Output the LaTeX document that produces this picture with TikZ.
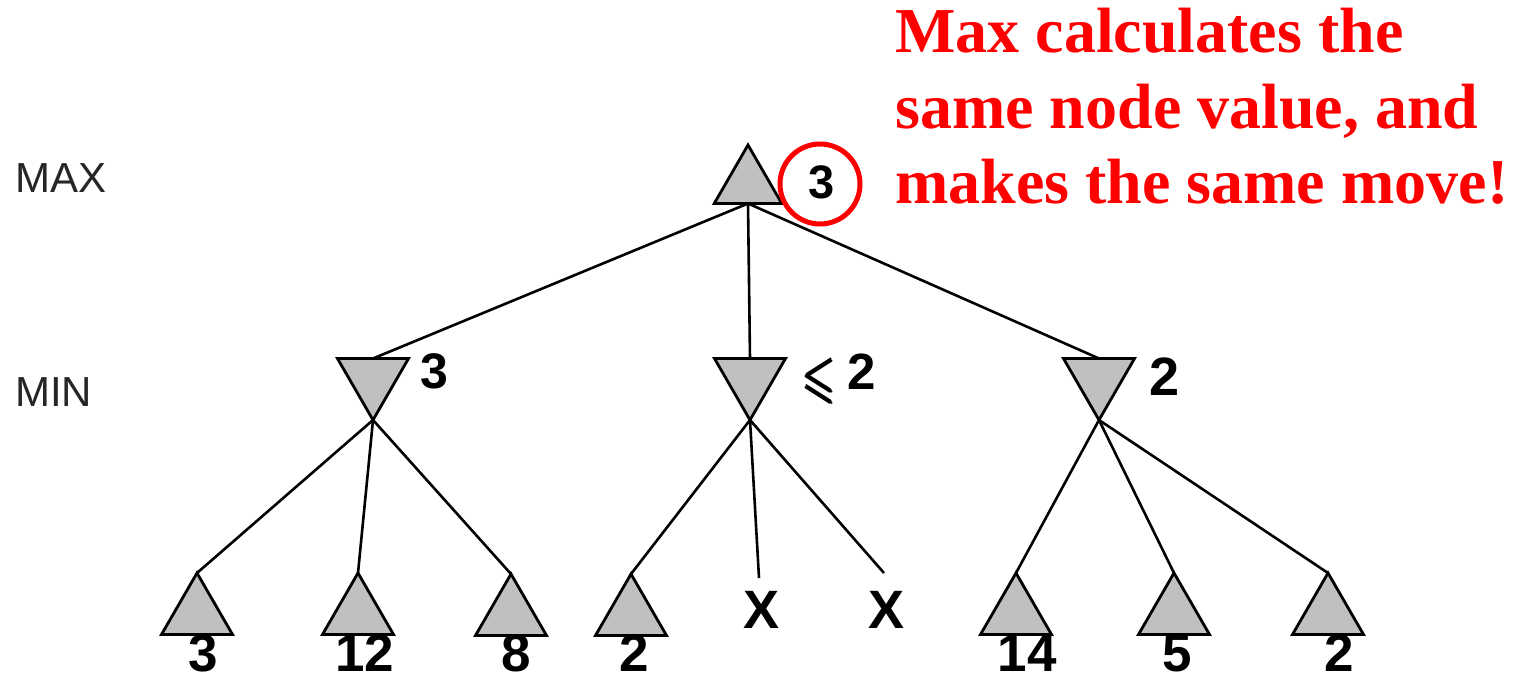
\documentclass[tikz,border=0pt]{standalone}
\usepackage{fontspec}
\usepackage{amssymb}
\usepackage{amsmath}
\usepackage{graphicx}
\newfontfamily\arialf{Liberation Sans}
\newfontfamily\timesf{Liberation Serif}
\usetikzlibrary{shapes.geometric}
\definecolor{trigray}{RGB}{192,192,192}
\definecolor{redtxt}{RGB}{255,0,0}
\begin{document}
\begin{tikzpicture}[x=1pt,y=-1pt,
  maxtri/.style={regular polygon, regular polygon sides=3, draw=black, fill=trigray, line width=2.8pt, inner sep=0pt, outer sep=0pt, minimum size=#1},
  mintri/.style={maxtri=#1, shape border rotate=180},
  edge/.style={line width=2.6pt, black},
  lvl/.style={font=\arialf\fontsize{42}{42}\selectfont, text=black!85, anchor=base west, inner sep=0pt},
  val/.style={font=\arialf\bfseries\fontsize{#1}{#1}\selectfont, anchor=base, inner sep=0pt},
  note/.style={font=\timesf\bfseries\fontsize{64}{64}\selectfont, text=redtxt, anchor=base west, inner sep=0pt},
]
\fill[white] (0,0) rectangle (1524,680);
\useasboundingbox (0,0) rectangle (1524,680);

% level labels
\node[lvl] (maxl) at (15,192) {MAX};
\node[lvl] (minl) at (15,406) {MIN};

% root
\node[maxtri=78] (root) at (748,184) {};
% min nodes
\node[mintri=82] (m1) at (373,379) {};
\node[mintri=82] (m2) at (750,379) {};
\node[mintri=82] (m3) at (1099,379) {};
% leaves
\node[maxtri=82] (l1) at (197,614) {};
\node[maxtri=82] (l2) at (358,614) {};
\node[maxtri=82] (l3) at (511,615) {};
\node[maxtri=82] (l4) at (631,615) {};
\node[maxtri=82] (l5) at (1016,614) {};
\node[maxtri=82] (l6) at (1174,614) {};
\node[maxtri=82] (l7) at (1328,614) {};
% pruned leaves
\node[val=54] (x1) at (762,628) {X};
\node[val=54] (x2) at (886,628) {X};
\coordinate (x1t) at (759,578);
\coordinate (x2t) at (884,573);

% connectors
\draw[edge] (root.side 2) -- (m1.side 2);
\draw[edge] (root.side 2) -- (m2.side 2);
\draw[edge] (root.side 2) -- (m3.side 2);
\draw[edge] (m1.corner 1) -- (l1.corner 1);
\draw[edge] (m1.corner 1) -- (l2.corner 1);
\draw[edge] (m1.corner 1) -- (l3.corner 1);
\draw[edge] (m2.corner 1) -- (l4.corner 1);
\draw[edge] (m2.corner 1) -- (x1t);
\draw[edge] (m2.corner 1) -- (x2t);
\draw[edge] (m3.corner 1) -- (l5.corner 1);
\draw[edge] (m3.corner 1) -- (l6.corner 1);
\draw[edge] (m3.corner 1) -- (l7.corner 1);

% leaf values
\node[val=53] (v1) at (203,671) {3};
\node[val=53] (v2) at (365,671) {12};
\node[val=53] (v3) at (516,671) {8};
\node[val=53] (v4) at (634,671) {2};
\node[val=53] (v5) at (1027,671) {14};
\node[val=53] (v6) at (1177,671) {5};
\node[val=53] (v7) at (1339,671) {2};

% min values
\node[val=50] (m1v) at (434,388) {3};
\node[inner sep=0pt] (leq) at (820,381) {\resizebox*{33pt}{46pt}{$\pmb{\leqslant}$}};
\node[val=51] (m2v) at (862,389) {2};
\node[val=54] (m3v) at (1165,395) {2};

% root value with highlight
\node[val=47] (rv) at (822,198) {3};
\node[circle, draw=redtxt, line width=5pt, minimum size=80pt, inner sep=0pt] (hl) at (820,184) {};

% note
\node[note] (n1) at (895,52) {Max calculates the};
\node[note] (n2) at (895,128) {same node value, and};
\node[note] (n3) at (895,203) {makes the same move!};
\end{tikzpicture}
\end{document}
